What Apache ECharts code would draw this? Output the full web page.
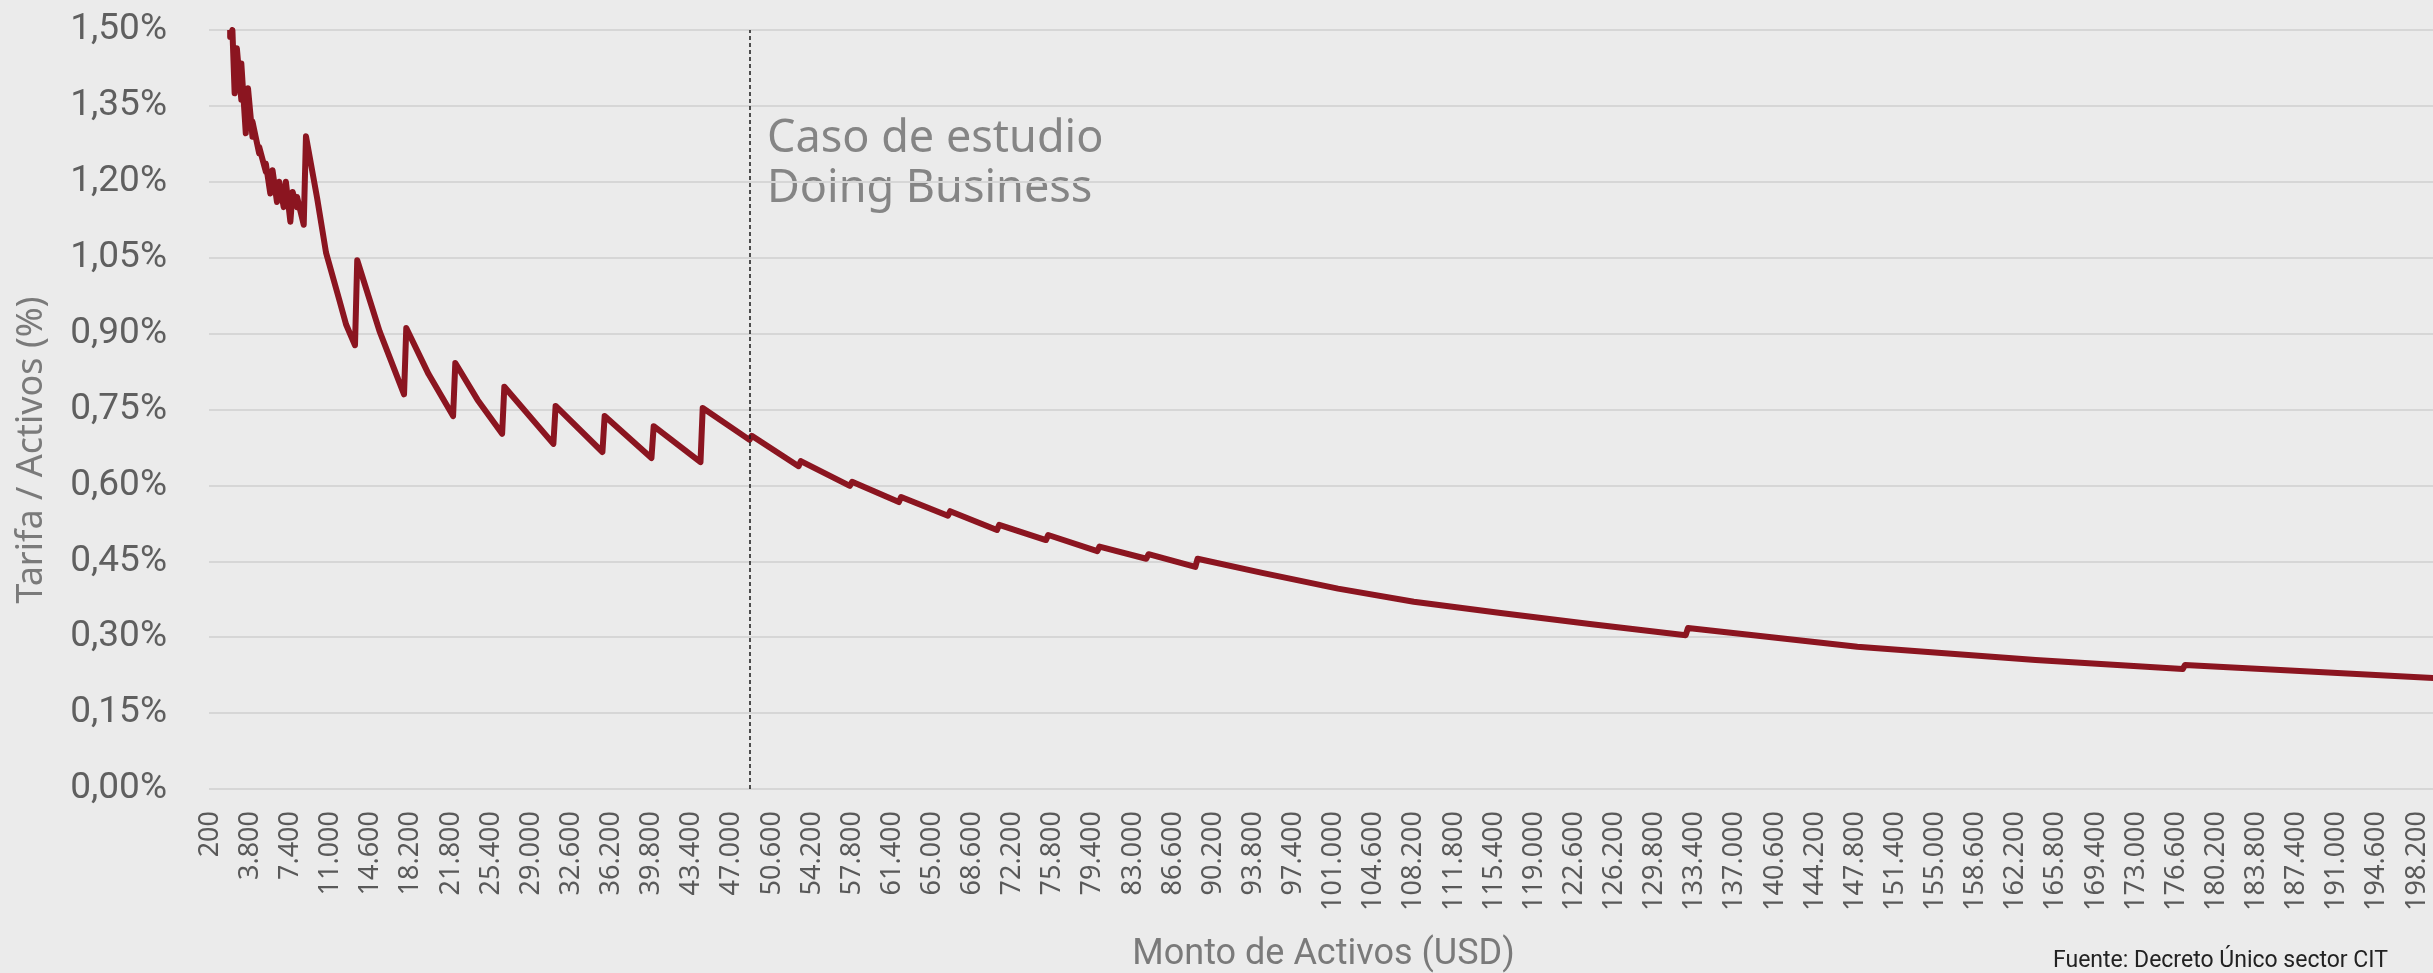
<!DOCTYPE html>
<html>
<head>
  <meta charset="utf-8">
  <title>Tarifa / Activos</title>
  <script src="https://cdn.jsdelivr.net/npm/echarts/dist/echarts.min.js"></script>
  <style>
    html, body { margin: 0; padding: 0; background: #ebebeb; }
    #chart-container { width: 2433px; height: 973px; }
  </style>
</head>
<body>
<div id="chart-container"></div>

<script>
  // montos de activos (USD) donde cambia la pendiente de la curva
  var montos = [
    1900, 2000, 2100, 2400, 2500, 2900, 3000, 3400, 3500, 3900, 4000,
    4500, 4600, 5100, 5200, 5600, 5700, 6200, 6300, 6800, 6900, 7400,
    7500, 7900, 8000, 8500, 8800, 9700, 10600, 11700, 12400, 13100, 13300,
    15300, 17600, 17800, 19800, 21900, 22100, 24100, 26400, 26600,
    30900, 31100, 35300, 35500, 39800, 40000, 44100, 44300, 48500,
    48700, 53000, 53200, 57500, 57700, 61900, 62100, 66300, 66500,
    70800, 71000, 75200, 75400, 79700, 79900, 84100, 84300, 88500,
    88700, 94500, 101400, 108200, 116000, 124000, 132600, 132800,
    148000, 164000, 177200, 177400, 200000
  ];
  // tarifa / activos (%) en cada monto
  var tarifa = [
    1.500, 1.486, 1.500, 1.375, 1.464, 1.362, 1.434, 1.296, 1.385, 1.289, 1.319,
    1.256, 1.269, 1.220, 1.236, 1.177, 1.223, 1.160, 1.200, 1.150, 1.200, 1.121,
    1.180, 1.150, 1.170, 1.115, 1.290, 1.168, 1.060, 0.966, 0.918, 0.877, 1.045,
    0.905, 0.780, 0.911, 0.820, 0.737, 0.842, 0.769, 0.702, 0.795,
    0.682, 0.757, 0.666, 0.737, 0.654, 0.717, 0.646, 0.753, 0.690,
    0.698, 0.638, 0.648, 0.599, 0.607, 0.567, 0.577, 0.540, 0.549,
    0.512, 0.522, 0.492, 0.502, 0.470, 0.479, 0.455, 0.464, 0.439,
    0.455, 0.427, 0.396, 0.370, 0.348, 0.326, 0.304, 0.318,
    0.281, 0.255, 0.237, 0.245, 0.219
  ];
  // eje X: montos cada 200 USD, etiqueta cada 3.600
  var montoInicio = 200, montoFin = 200000, montoPaso = 200;
  var casoEstudio = 48500;

  function miles(n) {
    return String(n).replace(/\B(?=(\d{3})+(?!\d))/g, '.');
  }
  // posición de un monto en el eje de categorías
  function indice(m) {
    return Math.round((m - montoInicio) / montoPaso);
  }

  var categorias = [];
  for (var m = montoInicio; m <= montoFin; m += montoPaso) {
    categorias.push(miles(m));
  }

  var datos = montos.map(function (m, i) {
    return [indice(m), tarifa[i]];
  });

  var myChart = echarts.init(document.getElementById('chart-container'));

  myChart.setOption({
    backgroundColor: '#ebebeb',
    animation: false,
    grid: {
      left: 209,
      top: 30,
      width: 2229,
      height: 759,
      outerBoundsMode: 'none'
    },
    xAxis: {
      type: 'category',
      data: categorias,
      boundaryGap: true,
      axisLine: { show: false },
      axisTick: { show: false },
      axisLabel: {
        interval: 17,
        rotate: 90,
        margin: 22,
        color: '#595959',
        fontFamily: 'Noto Sans',
        fontSize: 27
      },
      name: 'Monto de Activos (USD)',
      nameLocation: 'middle',
      nameGap: 166,
      nameTextStyle: {
        color: '#7a7a7a',
        fontFamily: 'Roboto',
        fontSize: 36,
        verticalAlign: 'middle'
      }
    },
    yAxis: {
      type: 'value',
      min: 0,
      max: 1.5,
      interval: 0.15,
      axisLine: { show: false },
      axisTick: { show: false },
      splitLine: { lineStyle: { color: '#d6d6d6', width: 2 } },
      axisLabel: {
        margin: 42,
        color: '#5f5f5f',
        fontFamily: 'Roboto',
        fontSize: 37,
        formatter: function (v) {
          return v.toFixed(2).replace('.', ',') + '%';
        }
      }
    },
    graphic: [
      {
        type: 'text',
        x: 32,
        y: 450,
        rotation: Math.PI / 2,
        style: {
          text: 'Tarifa / Activos (%)',
          fill: '#7a7a7a',
          font: '36px "Noto Sans"',
          align: 'center',
          verticalAlign: 'middle'
        }
      },
      {
        type: 'text',
        x: 767,
        y: 139,
        style: {
          text: 'Caso de estudio',
          fill: '#858585',
          font: '45px "Noto Sans"',
          align: 'left',
          verticalAlign: 'middle'
        }
      },
      {
        type: 'text',
        x: 767,
        y: 189,
        style: {
          text: 'Doing Business',
          fill: '#858585',
          font: '45px "Noto Sans"',
          align: 'left',
          verticalAlign: 'middle'
        }
      },
      {
        type: 'text',
        x: 2053,
        y: 961,
        style: {
          text: 'Fuente: Decreto Único sector CIT',
          fill: '#222222',
          font: '23px Roboto',
          align: 'left',
          verticalAlign: 'middle'
        }
      }
    ],
    series: [
      {
        type: 'line',
        data: datos,
        showSymbol: false,
        symbol: 'none',
        lineStyle: { color: '#8b1520', width: 6, join: 'round' },
        markLine: {
          silent: true,
          symbol: 'none',
          label: { show: false },
          lineStyle: { color: '#1a1a1a', width: 1.5, type: [4, 3] },
          data: [{ xAxis: indice(casoEstudio) }]
        }
      }
    ]
  });
</script>
</body>
</html>
